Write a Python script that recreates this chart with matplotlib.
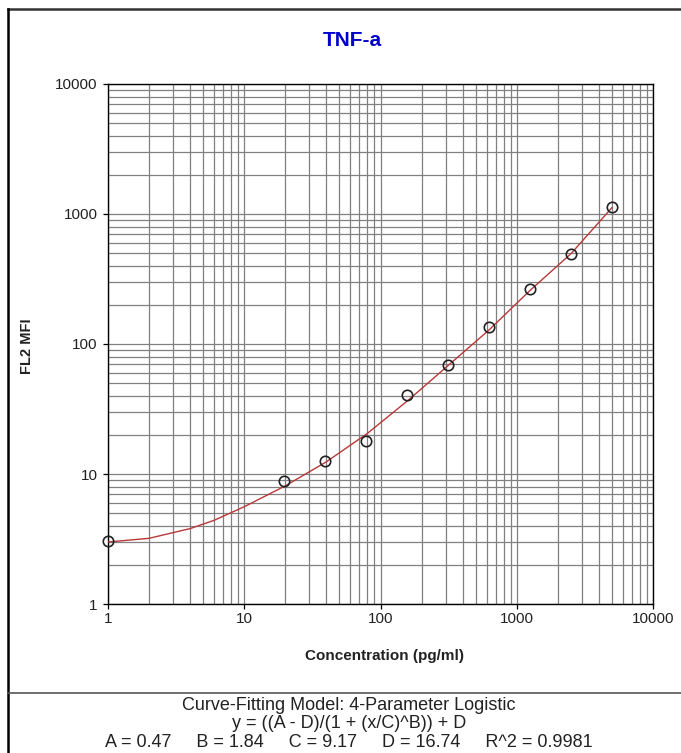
"""
TNF-a standard curve (4PL fit) on log-log axes
"""

import matplotlib
matplotlib.use('Agg')
import matplotlib.pyplot as plt
from matplotlib.lines import Line2D

plt.rcParams['font.family'] = ['Liberation Sans', 'DejaVu Sans']

# standards: concentration (pg/ml) and measured FL2 MFI
conc = [1, 19.53, 39.06, 78.13, 156.25, 312.5, 625, 1250, 2500, 5000]
mfi = [3.05, 8.8, 12.5, 17.9, 40.5, 68.5, 134, 265, 490, 1140]

# fitted curve
curve_x = [1, 2, 4, 6, 10, 20, 40, 80, 160, 312, 625, 1250, 2500, 5000]
curve_y = [3.0, 3.2, 3.8, 4.4, 5.6, 8.1, 12.4, 20.5, 37, 68, 128, 258, 495, 1120]

tick_vals = [1, 10, 100, 1000, 10000]
tick_labels = ['1', '10', '100', '1000', '10000']

fit_lines = [
    'Curve-Fitting Model: 4-Parameter Logistic',
    'y = ((A - D)/(1 + (x/C)^B)) + D',
    'A = 0.47     B = 1.84     C = 9.17     D = 16.74     R^2 = 0.9981',
]

W, H = 681, 753
fig = plt.figure(figsize=(W / 100, H / 100), dpi=100)
ax = fig.add_axes([108 / W, (H - 604) / H, 545 / W, 520 / H])

ax.set_xscale('log')
ax.set_yscale('log')
ax.set_xlim(1, 10000)
ax.set_ylim(1, 10000)

ax.grid(True, which='both', color='#808080', linewidth=0.9)
ax.set_axisbelow(True)

ax.plot(curve_x, curve_y, color='#b83838', linewidth=1.0, zorder=3)
ax.plot(conc, mfi, 'o', markerfacecolor='none', markeredgecolor='#222222',
        markersize=7.5, markeredgewidth=1.2, zorder=4, clip_on=False)

ax.set_xticks(tick_vals, tick_labels)
ax.set_yticks(tick_vals, tick_labels)
ax.tick_params(which='major', direction='out', length=3.6, width=0.9,
               color='black', labelsize=11, labelcolor='#222222')
ax.tick_params(axis='x', pad=2)
ax.tick_params(axis='y', pad=4)
ax.tick_params(which='minor', length=0)
for sp in ax.spines.values():
    sp.set_color('black')
    sp.set_linewidth(1.0)

fig.text(352 / W, 1 - 41 / H, 'TNF-a', color='#0000cc', fontsize=15,
         fontweight='bold', ha='center', va='center')
fig.text(384 / W, 1 - 656 / H, 'Concentration (pg/ml)', fontsize=11,
         fontweight='bold', ha='center', va='center', color='#222222')
fig.text(27 / W, 1 - 346 / H, 'FL2 MFI', fontsize=10.5, fontweight='bold',
         rotation=90, ha='center', va='center', color='#222222')

for i, line in enumerate(fit_lines):
    fig.text(349 / W, 1 - (710 + 18.5 * i) / H, line, fontsize=13,
             ha='center', va='baseline', color='#222222')

# outer frame and divider
fig.add_artist(Line2D([8 / W, 1], [1 - 8.5 / H, 1 - 8.5 / H], color='#333333',
                      linewidth=1.8, transform=fig.transFigure))
fig.add_artist(Line2D([8 / W, 8 / W], [0, 1 - 8.5 / H], color='black',
                      linewidth=1.8, transform=fig.transFigure))
fig.add_artist(Line2D([8 / W, 1], [1 - 693 / H, 1 - 693 / H], color='#555555',
                      linewidth=1.2, transform=fig.transFigure))

fig.savefig('out.png', dpi=100)
